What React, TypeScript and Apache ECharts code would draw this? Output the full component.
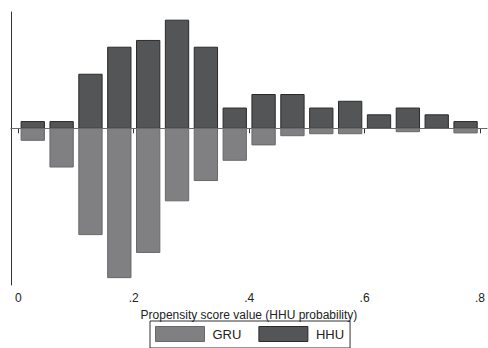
import React, { useEffect, useRef } from "react";
import * as echarts from "echarts";

// Bin centres of the propensity-score histogram (bin width .05)
const binCenters = [0.025, 0.075, 0.125, 0.175, 0.225, 0.275, 0.325, 0.375, 0.425, 0.475, 0.525, 0.575, 0.625, 0.675, 0.725, 0.775];
// Percent of HHU observations per bin (drawn upward)
const hhuValues = [1.1, 1.1, 8.8, 13.2, 14.3, 17.6, 13.2, 3.3, 5.5, 5.5, 3.3, 4.4, 2.2, 3.3, 2.2, 1.1];
// Percent of GRU observations per bin (drawn downward)
const gruValues = [-1.95, -6.3, -17.3, -24.3, -20.2, -11.8, -8.5, -5.2, -2.7, -1.2, -0.88, -0.88, 0, -0.55, 0, -0.75];
const xTicks = [0, 0.2, 0.4, 0.6, 0.8];
const seriesNames = ["GRU", "HHU"];

const HALF_W = 0.0202;
const FONT = "'Liberation Sans', Arial, sans-serif";

const GRU_FILL = "#808083";
const GRU_STROKE = "#68686a";
const HHU_FILL = "#545557";
const HHU_STROKE = "#2a2a2a";

function makeRender(fill: string, stroke: string) {
  return (params: any, api: any) => {
    const x = api.value(0);
    const v = api.value(1);
    if (!v) return null;
    const p0 = api.coord([x - HALF_W, 0]);
    const p1 = api.coord([x + HALF_W, v]);
    return {
      type: "rect",
      shape: {
        x: p0[0],
        y: Math.min(p0[1], p1[1]),
        width: p1[0] - p0[0],
        height: Math.abs(p1[1] - p0[1]),
      },
      style: { fill, stroke, lineWidth: 1 },
    };
  };
}

export default function App() {
  const ref = useRef<HTMLDivElement>(null);
  useEffect(() => {
    if (!ref.current) return;
    const chart = echarts.init(ref.current, null, { renderer: "svg" });
    const fmt = (v: number) => (Math.abs(v) < 1e-9 ? "0" : v.toFixed(1).replace(/^0/, ""));
    chart.setOption({
      animation: false,
      backgroundColor: "#ffffff",
      grid: { left: 11, right: 0, top: 12, bottom: 63, containLabel: false },
      xAxis: {
        type: "value",
        min: -0.0127,
        max: 0.812,
        name: "Propensity score value (HHU probability)",
        nameLocation: "middle",
        nameGap: 13,
        nameTextStyle: { fontFamily: FONT, fontSize: 12, color: "#222" },
        axisLine: { show: true, lineStyle: { color: "#333", width: 1 } },
        axisTick: { show: true, customValues: xTicks, length: 5, lineStyle: { color: "#333", width: 1 } },
        axisLabel: {
          show: true,
          customValues: xTicks,
          margin: 7,
          formatter: fmt,
          fontFamily: FONT,
          fontSize: 12,
          color: "#222",
        },
        splitLine: { show: false },
      },
      yAxis: {
        type: "value",
        min: -25.5,
        max: 18.93,
        axisLine: { show: true, onZero: false, lineStyle: { color: "#333", width: 1 } },
        axisTick: { show: false },
        axisLabel: { show: false },
        splitLine: { show: false },
      },
      legend: {
        data: [
          { name: seriesNames[0], icon: "rect", itemStyle: { color: GRU_FILL, borderColor: GRU_STROKE, borderWidth: 1 } },
          { name: seriesNames[1], icon: "rect", itemStyle: { color: HHU_FILL, borderColor: HHU_STROKE, borderWidth: 1 } },
        ],
        left: 150,
        top: 321,
        orient: "horizontal",
        itemWidth: 49,
        itemHeight: 15,
        itemGap: 17,
        padding: [5, 6, 6, 5],
        borderColor: "#333",
        borderWidth: 1,
        textStyle: { fontFamily: FONT, fontSize: 13, color: "#222", padding: [0, 0, 0, 3] },
      },
      series: [
        {
          name: seriesNames[0],
          type: "custom",
          renderItem: makeRender(GRU_FILL, GRU_STROKE),
          itemStyle: { color: GRU_FILL, borderColor: GRU_STROKE },
          data: binCenters.map((c, i) => [c, gruValues[i]]),
          encode: { x: 0, y: 1 },
          z: 2,
        },
        {
          name: seriesNames[1],
          type: "custom",
          renderItem: makeRender(HHU_FILL, HHU_STROKE),
          itemStyle: { color: HHU_FILL, borderColor: HHU_STROKE },
          data: binCenters.map((c, i) => [c, hhuValues[i]]),
          encode: { x: 0, y: 1 },
          z: 3,
        },
        {
          type: "line",
          data: [],
          z: 10,
          silent: true,
          markLine: {
            silent: true,
            symbol: "none",
            label: { show: false },
            lineStyle: { color: "#6a6a6a", width: 1, type: "solid" },
            data: [{ yAxis: 0 }],
          },
        },
      ],
    });
    return () => chart.dispose();
  }, []);
  return <div ref={ref} style={{ width: 488, height: 348, position: "absolute", left: 0, top: 0 }} />;
}
